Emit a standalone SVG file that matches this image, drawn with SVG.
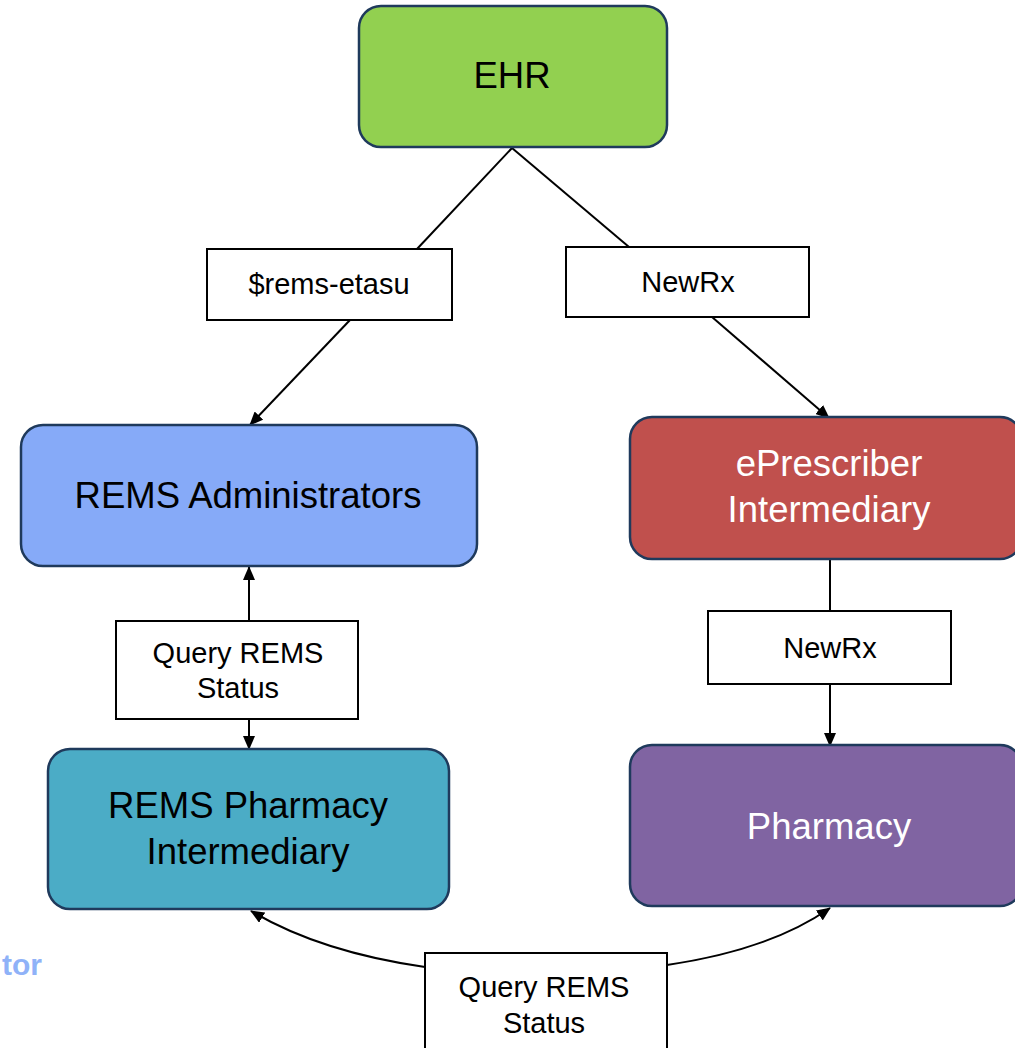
<svg xmlns="http://www.w3.org/2000/svg" width="1015" height="1048" viewBox="0 0 1015 1048">
  <defs>
    <marker id="arrow" viewBox="0 0 14 12" refX="13" refY="6" markerWidth="14" markerHeight="12" markerUnits="userSpaceOnUse" orient="auto">
      <path d="M0,0 L14,6 L0,12 Z" fill="#000"/>
    </marker>
    <style>
      .node { stroke: #1f3a5c; stroke-width: 2.5; }
      .label-box { fill: #fff; stroke: #000; stroke-width: 2; }
      .big { font-family: "Liberation Sans", Arial, sans-serif; font-size: 36.5px; text-anchor: middle; }
      .small { font-family: "Liberation Sans", Arial, sans-serif; font-size: 29px; text-anchor: middle; fill: #000; }
      .conn { fill: none; stroke: #000; stroke-width: 2; }
    </style>
  </defs>
  <rect width="1015" height="1048" fill="#fff"/>

  <!-- connectors -->
  <g id="connectors">
    <line class="conn" x1="512" y1="148" x2="417" y2="249"/>
    <line class="conn" x1="350" y1="320" x2="250" y2="425" marker-end="url(#arrow)"/>
    <line class="conn" x1="512" y1="148" x2="629" y2="247"/>
    <line class="conn" x1="712" y1="317" x2="829" y2="418" marker-end="url(#arrow)"/>
    <line class="conn" x1="830" y1="559" x2="830" y2="611"/>
    <line class="conn" x1="830" y1="684" x2="830" y2="746" marker-end="url(#arrow)"/>
    <line class="conn" x1="249" y1="621" x2="249" y2="567" marker-end="url(#arrow)"/>
    <line class="conn" x1="249" y1="719" x2="249" y2="749" marker-end="url(#arrow)"/>
    <path class="conn" d="M425,967 Q320,952 251,911" marker-end="url(#arrow)"/>
    <path class="conn" d="M667,965 Q770,950 830,908" marker-end="url(#arrow)"/>
  </g>

  <!-- nodes -->
  <g id="ehr">
    <rect class="node" x="359" y="6" width="308" height="141" rx="22" fill="#92d050"/>
    <text class="big" x="512" y="88" fill="#000">EHR</text>
  </g>
  <g id="rems-admin">
    <rect class="node" x="21" y="425" width="456" height="141" rx="22" fill="#86aaf8"/>
    <text class="big" x="248" y="508" fill="#000">REMS Administrators</text>
  </g>
  <g id="eprescriber">
    <rect class="node" x="630" y="417" width="392" height="142" rx="22" fill="#c0504d"/>
    <text class="big" x="829" y="476" fill="#fff">ePrescriber</text>
    <text class="big" x="829" y="522" fill="#fff">Intermediary</text>
  </g>
  <g id="rems-pharmacy-intermediary">
    <rect class="node" x="48" y="749" width="401" height="160" rx="22" fill="#4bacc6"/>
    <text class="big" x="248" y="818" fill="#000">REMS Pharmacy</text>
    <text class="big" x="248" y="864" fill="#000">Intermediary</text>
  </g>
  <g id="pharmacy">
    <rect class="node" x="630" y="745" width="392" height="161" rx="22" fill="#8064a2"/>
    <text class="big" x="829" y="839" fill="#fff">Pharmacy</text>
  </g>

  <!-- connector labels -->
  <g id="label-rems-etasu">
    <rect class="label-box" x="207" y="249" width="245" height="71"/>
    <text class="small" x="329" y="294">$rems-etasu</text>
  </g>
  <g id="label-newrx-top">
    <rect class="label-box" x="566" y="247" width="243" height="70"/>
    <text class="small" x="688" y="292">NewRx</text>
  </g>
  <g id="label-newrx-mid">
    <rect class="label-box" x="708" y="611" width="243" height="73"/>
    <text class="small" x="830" y="658">NewRx</text>
  </g>
  <g id="label-query-left">
    <rect class="label-box" x="116" y="621" width="242" height="98"/>
    <text class="small" x="238" y="663">Query REMS</text>
    <text class="small" x="238" y="698">Status</text>
  </g>
  <g id="label-query-bottom">
    <rect class="label-box" x="425" y="953" width="242" height="110"/>
    <text class="small" x="544" y="997">Query REMS</text>
    <text class="small" x="544" y="1033">Status</text>
  </g>

  <text x="42" y="975" font-family="Liberation Sans, Arial, sans-serif" font-size="30" font-weight="bold" fill="#8fb2f8" text-anchor="end">tor</text>
</svg>
